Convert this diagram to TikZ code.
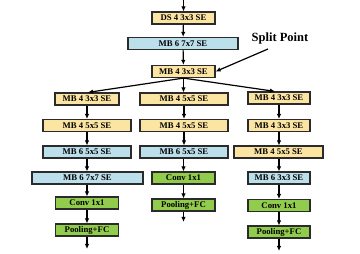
\documentclass[tikz,border=0pt]{standalone}
\usepackage{fontspec}
\setmainfont{Liberation Serif}
\usepackage{tikz}
\usetikzlibrary{arrows.meta,positioning,calc}
\definecolor{mbyellow}{HTML}{FCE5A2}
\definecolor{mbblue}{HTML}{BCDFEC}
\definecolor{headgreen}{HTML}{92CC4C}
\definecolor{edgegray}{HTML}{2B2B2B}

\begin{document}
\begin{tikzpicture}[x=1pt,y=-1pt,
  blk/.style={draw=edgegray,line width=1.2pt,minimum height=12pt,inner sep=0.5pt,
              font=\fontsize{8.7}{9}\selectfont\bfseries},
  ybox/.style={blk,fill=mbyellow},
  bbox/.style={blk,fill=mbblue},
  gbox/.style={blk,fill=headgreen},
  arr/.style={-{Latex[length=5pt,width=4.5pt]},line width=1.2pt,color=black}
]
  \useasboundingbox (0,0) rectangle (360,254);

  % Shared stem
  \coordinate (in) at (183.5,0);
  \node[ybox,minimum width=63pt] (ds) at (183.5,18) {DS 4 3x3 SE};
  \node[bbox,minimum width=110pt] (stem) at (183,43.5) {MB 6 7x7 SE};
  \node[ybox,minimum width=63pt] (split) at (183.5,71.5) {MB 4 3x3 SE};

  % Split annotation
  \node[font=\fontsize{12.5}{14}\selectfont\bfseries] (splitlbl) at (280,38) {Split Point};
  \coordinate (splittail) at (268,49);

  % Branch A (left)
  \node[ybox,minimum width=64pt] (a1) at (87,99) {MB 4 3x3 SE};
  \node[ybox,minimum width=88pt] (a2) at (87,125.5) {MB 4 5x5 SE};
  \node[bbox,minimum width=88pt] (a3) at (87,152) {MB 6 5x5 SE};
  \node[bbox,minimum width=111pt] (a4) at (87.5,178) {MB 6 7x7 SE};
  \node[gbox,minimum width=63pt] (a5) at (87,203) {Conv 1x1};
  \node[gbox,minimum width=63pt] (a6) at (87,230) {Pooling+FC};
  \coordinate (aout) at (87,249);

  % Branch B (middle)
  \node[ybox,minimum width=88pt] (b1) at (184,99) {MB 4 5x5 SE};
  \node[ybox,minimum width=88pt] (b2) at (184,125.5) {MB 4 5x5 SE};
  \node[bbox,minimum width=88pt] (b3) at (184,152) {MB 6 5x5 SE};
  \node[gbox,minimum width=63pt] (b4) at (183.5,178) {Conv 1x1};
  \node[gbox,minimum width=63pt] (b5) at (183.5,205) {Pooling+FC};
  \coordinate (bout) at (183.5,222);

  % Branch C (right)
  \node[ybox,minimum width=62pt] (c1) at (279,98) {MB 4 3x3 SE};
  \node[ybox,minimum width=62pt] (c2) at (279,125.5) {MB 4 3x3 SE};
  \node[ybox,minimum width=89pt] (c3) at (278.5,152) {MB 4 5x5 SE};
  \node[bbox,minimum width=62pt] (c4) at (279,178) {MB 6 3x3 SE};
  \node[gbox,minimum width=62pt] (c5) at (279,205.5) {Conv 1x1};
  \node[gbox,minimum width=62pt] (c6) at (279,232) {Pooling+FC};
  \coordinate (cout) at (279,251);

  % Arrows
  \draw[arr] (in) -- (ds);
  \draw[arr] (ds) -- (stem);
  \draw[arr] (stem) -- (split);
  \draw[arr] (splittail) -- (split.east);
  \draw[arr] (split.south) -- ($(a1.north)+(1,0)$);
  \draw[arr] (split.south) -- (b1.north -| split.south);
  \draw[arr] (split.south) -- ($(c1.north)+(-4,0)$);

  \draw[arr] (a1) -- (a2);
  \draw[arr] (a2) -- (a3);
  \draw[arr] (a3) -- (a3 |- a4.north);
  \draw[arr] (a4.south -| a5) -- (a5);
  \draw[arr] (a5) -- (a6);
  \draw[arr] (a6) -- (aout);

  \draw[arr] (b1) -- (b2);
  \draw[arr] (b2) -- (b3);
  \draw[arr] (b3.south -| b4) -- (b4);
  \draw[arr] (b4) -- (b5);
  \draw[arr] (b5) -- (bout);

  \draw[arr] (c1) -- (c2);
  \draw[arr] (c2) -- (c2 |- c3.north);
  \draw[arr] (c3.south -| c4) -- (c4);
  \draw[arr] (c4) -- (c5);
  \draw[arr] (c5) -- (c6);
  \draw[arr] (c6) -- (cout);
\end{tikzpicture}
\end{document}
